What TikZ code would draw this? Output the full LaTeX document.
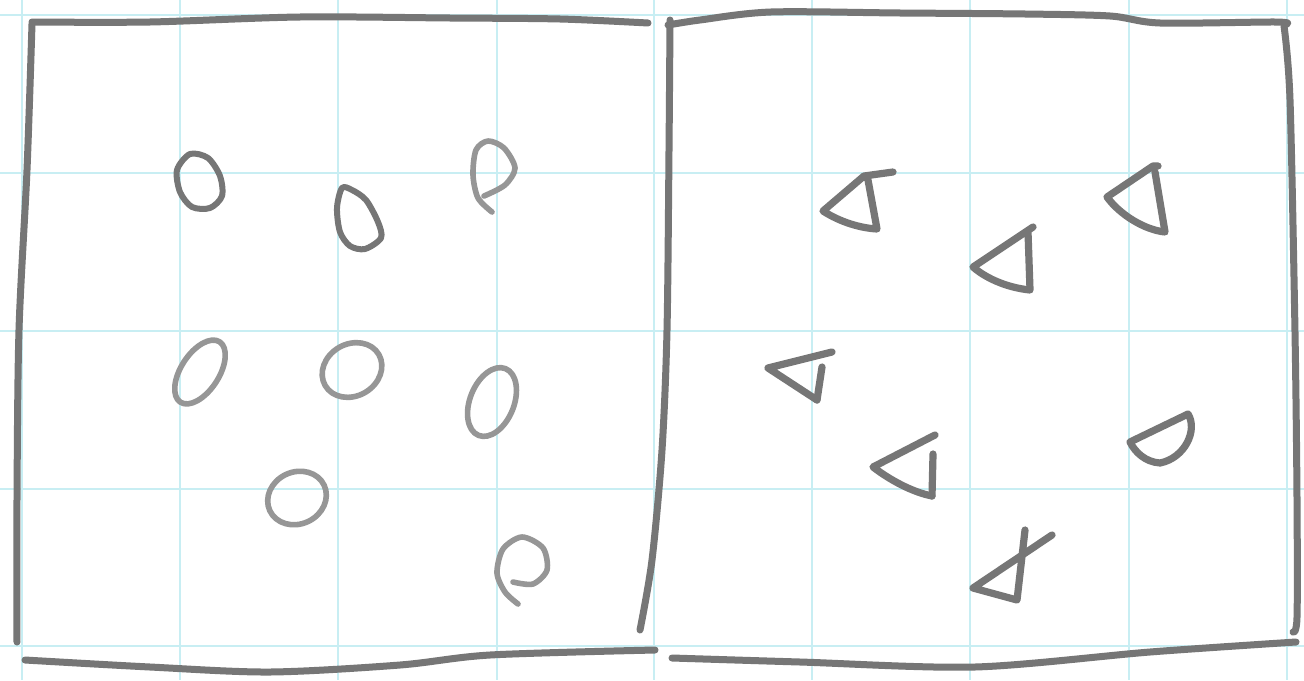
\documentclass[tikz,border=0pt]{standalone}
\begin{document}
\begin{tikzpicture}[x=0.5pt,y=-0.5pt,
  gridline/.style={draw=gridcyan,line width=0.65pt},
  pencil/.style={draw=pencilgray,line width=3.5pt,line cap=round,line join=round},
  pencilshape/.style={draw=pencilgray,line width=3.6pt,line cap=round,line join=round},
  pencilcirc/.style={draw=pencilgray,line width=3pt,line cap=round,line join=round},
  pencillight/.style={draw=pencillt,line width=2.8pt,line cap=round,line join=round}]
\definecolor{gridcyan}{RGB}{200,238,243}
\definecolor{pencilgray}{RGB}{118,118,118}
\definecolor{pencillt}{RGB}{150,150,150}
\useasboundingbox (0,0) rectangle (1304,680);
\fill[white] (0,0) rectangle (1304,680);
% grid
\foreach \gx in {22,180,338,497,654,812,970,1129,1287}
  \draw[gridline] (\gx,0) -- (\gx,680);
\foreach \gy in {15,173,331,489,646}
  \draw[gridline] (0,\gy) -- (1304,\gy);
% left box
\draw[pencil] plot[smooth] coordinates {(17,642) (17,500) (19,330) (27,170) (32,24)};
\draw[pencil] plot[smooth] coordinates {(32,22) (150,22) (300,17) (450,18) (560,19) (648,23)};
\draw[pencil] plot[smooth] coordinates {(25,660) (150,667) (270,672) (400,665) (490,655) (655,650)};
% middle divider
\draw[pencil] plot[smooth] coordinates {(670,20) (669,150) (667,330) (662,450) (652,560) (640,630)};
% right box
\draw[pencil] plot[smooth] coordinates {(668,25) (700,20) (771,12) (900,13) (1025,14) (1110,16) (1160,23) (1275,22) (1287,24)};
\draw[pencil] plot[smooth] coordinates {(1284,26) (1290,100) (1295,333) (1297,500) (1297,617) (1293,632)};
\draw[pencil] plot[smooth] coordinates {(672,658) (800,662) (975,667) (1150,652) (1296,642)};
% circles (left box)
\draw[pencilcirc] plot[smooth cycle] coordinates {(190,154) (208,158) (220,176) (222,196) (210,208) (192,207) (180,192) (177,170)};
\draw[pencilcirc] plot[smooth cycle] coordinates {(342,188) (352,190) (366,200) (378,222) (381,238) (365,249) (350,246) (340,232) (337,208)};
\draw[pencillight] plot[smooth] coordinates {(492,212) (478,198) (473,175) (476,150) (488,141) (504,148) (515,168) (505,185) (484,196)};
\draw[pencillight] (200,372) ellipse [rotate=57,x radius=18pt,y radius=9.5pt];
\draw[pencillight] (352,370) ellipse [rotate=30,x radius=15.5pt,y radius=13pt];
\draw[pencillight] (492,402) ellipse [rotate=68,x radius=18pt,y radius=11pt];
\draw[pencillight] (297,498) ellipse [rotate=25,x radius=15pt,y radius=13pt];
\draw[pencillight] plot[smooth] coordinates {(513,582) (533,584) (547,570) (543,548) (522,537) (503,549) (497,573) (505,592) (518,604)};
% triangles (right box)
\draw[pencilshape] (893,172) -- (864,176) -- (823,211) .. controls (840,222) and (860,228) .. (877,229) -- (868,180);
\draw[pencilshape] (1158,166) -- (1153,166) -- (1107,197) .. controls (1120,215) and (1145,230) .. (1165,232) -- (1155,172);
\draw[pencilshape] (1033,227) -- (973,267) .. controls (988,280) and (1010,288) .. (1030,290) -- (1028,232);
\draw[pencilshape] (832,352) -- (768,368) -- (817,400);
\draw[pencilshape] (822,367) -- (817,400);
\draw[pencilshape] (935,435) -- (873,467) .. controls (890,480) and (912,492) .. (932,496);
\draw[pencilshape] (933,454) -- (932,496);
\draw[pencilshape] (1130,442) -- (1188,414) .. controls (1198,430) and (1185,458) .. (1160,463) .. controls (1145,462) and (1135,452) .. (1130,442);
\draw[pencilshape] (1025,530) -- (1017,600) -- (973,588) -- (1052,535);
\end{tikzpicture}
\end{document}
